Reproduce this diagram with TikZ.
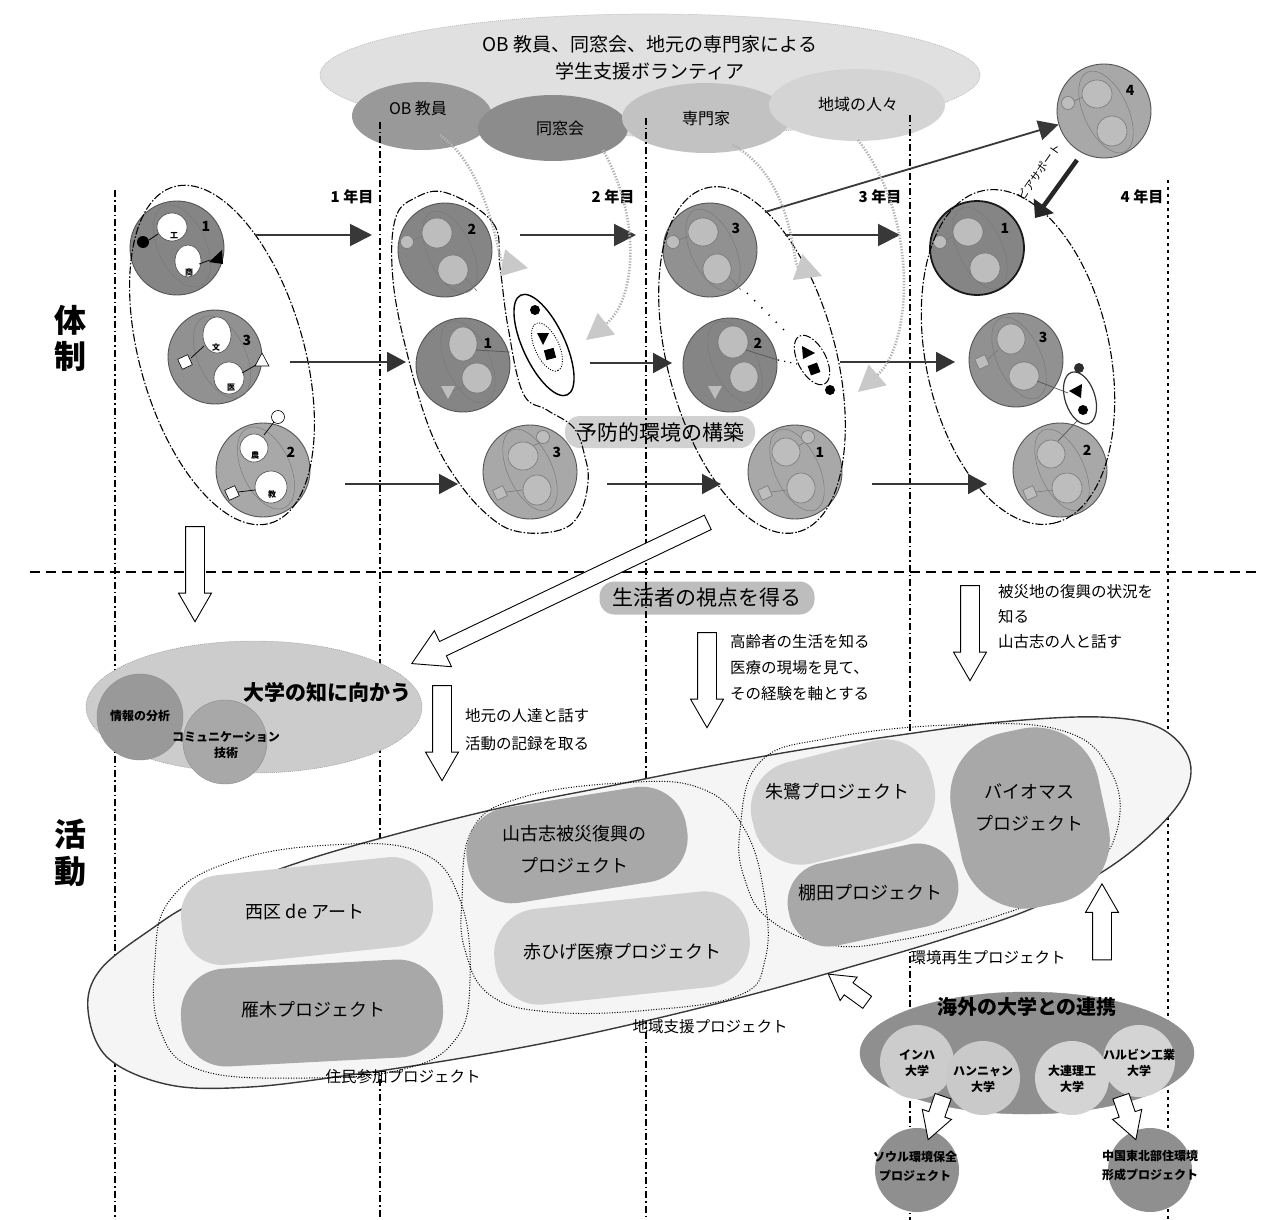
\documentclass[tikz,border=0pt]{standalone}
\usepackage{fontspec}
\setmainfont{Noto Sans CJK JP}
\usetikzlibrary{arrows.meta,shapes.geometric,shapes.arrows,calc}
\definecolor{gA}{gray}{0.52}
\definecolor{gB}{gray}{0.57}
\definecolor{gC}{gray}{0.66}
\definecolor{gBlob}{gray}{0.74}
\definecolor{gEdge}{gray}{0.33}
\definecolor{gFaint}{gray}{0.47}
\definecolor{gLine}{gray}{0.22}
\definecolor{vBig}{gray}{0.88}
\definecolor{vOB}{gray}{0.60}
\definecolor{vDS}{gray}{0.55}
\definecolor{vSM}{gray}{0.76}
\definecolor{vCH}{gray}{0.83}
\definecolor{pLight}{gray}{0.82}
\definecolor{pDark}{gray}{0.66}
\definecolor{kOut}{gray}{0.56}
\definecolor{kUni}{gray}{0.80}
\definecolor{dOut}{gray}{0.80}
\newcommand\fsz[2]{\fontsize{#1pt}{#2pt}\selectfont}
\begin{document}
\begin{tikzpicture}[x=1pt,y=-1pt,
  gcirc/.style={circle, draw=gEdge, line width=0.9pt, minimum size=94pt, inner sep=0pt},
  knob/.style={circle, draw=gFaint, fill=gBlob, line width=0.6pt, minimum size=13pt, inner sep=0pt},
  wknob/.style={circle, draw=black, fill=white, line width=0.6pt, minimum size=13pt, inner sep=0pt},
  wblob/.style={draw=gray!60!black, line width=0.6pt, fill=white},
  gblob/.style={draw=gFaint, line width=0.6pt, fill=gBlob},
  faint/.style={draw=gFaint, line width=0.45pt},
  sq/.style={draw=gFaint, fill=gBlob, line width=0.6pt, minimum size=11pt, inner sep=0pt, rotate=25},
  num/.style={font=\fsz{14}{14}\bfseries, inner sep=0pt},
  tiny/.style={font=\fsz{8}{8}\bfseries, inner sep=0pt},
  grpline/.style={draw=black, line width=1.1pt, dash pattern=on 8pt off 2pt on 1.5pt off 2pt},
  colline/.style={draw=black, line width=1.3pt, dash pattern=on 7pt off 3pt on 1.5pt off 3pt},
  arrA/.style={draw=gLine, line width=2pt, -{Triangle[length=22pt,width=22pt]}},
  arrB/.style={draw=gLine, line width=1.8pt, -{Triangle[length=19pt,width=20pt,color=gray!40!black,fill=gray!40!black]}},
  vdot/.style={draw=gray!60, line width=2.6pt, dash pattern=on 1.3pt off 1.6pt, -{Triangle[length=26pt,width=27pt,color=gray!42,fill=gray!42]}},
  hol/.style={single arrow, draw=black, fill=white, line width=0.9pt, inner xsep=0pt, inner ysep=9pt, single arrow head extend=7pt, single arrow tip angle=60},
  pill/.style={rounded corners=15pt, inner sep=4pt},
  pblob/.style={rectangle, inner sep=0pt},
  proj/.style={font=\fsz{18}{32}, align=center, inner sep=0pt},
  note/.style={font=\fsz{15.5}{26}, align=left, inner sep=0pt, anchor=west},
  glabel/.style={font=\fsz{15.5}{18}, inner sep=0pt},
  year/.style={font=\fsz{15}{15}\bfseries, inner sep=0pt},
  uni/.style={font=\fsz{12}{16}\bfseries, align=center, inner sep=0pt},
]
\useasboundingbox (0,0) rectangle (1266,1220);
\fill[white] (0,0) rectangle (1266,1220);

% ---------- volunteers ----------
\node[ellipse, draw=gray!55, dash pattern=on 1pt off 1pt, line width=0.7pt, fill=vBig, minimum width=660pt, minimum height=122pt, inner sep=0pt] (vol) at (650,75) {};
\node[font=\fsz{19}{27}, align=center] (voltxt) at (650,58) {OB 教員、同窓会、地元の専門家による\\学生支援ボランティア};
\node[ellipse, fill=vOB, minimum width=140pt, minimum height=68pt, inner sep=0pt] (ob) at (422,116) {};
\node[ellipse, fill=vDS, minimum width=150pt, minimum height=66pt, inner sep=0pt] (ds) at (553,128) {};
\node[ellipse, fill=vSM, minimum width=168pt, minimum height=70pt, inner sep=0pt] (sm) at (706,118) {};
\node[ellipse, fill=vCH, minimum width=176pt, minimum height=72pt, inner sep=0pt] (ch) at (857,105) {};
\node[glabel, font=\fsz{16}{16}] (obt) at (418,108) {OB 教員};
\node[glabel, font=\fsz{16}{16}] (dst) at (560,128) {同窓会};
\node[glabel, font=\fsz{16}{16}] (smt) at (706,118) {専門家};
\node[glabel, font=\fsz{16}{16}] (cht) at (858,104) {地域の人々};

% ---------- pills ----------
\node[pill, fill=pLight, minimum width=190pt, minimum height=32pt, font=\fsz{21}{21}] (yobo) at (660,432) {予防的環境の構築};
\node[pill, fill=gray!52, minimum width=215pt, minimum height=33pt, font=\fsz{21}{21}] (seikatsu) at (707,598) {生活者の視点を得る};

% ---------- grid lines ----------
\draw[colline] (115,190) -- (115,1220);
\draw[colline] (380,122) -- (380,1220);
\draw[colline] (646,118) -- (646,1220);
\draw[colline] (910,115) -- (910,1220);
\draw[colline, dash pattern=on 3pt off 4pt] (1168,180) -- (1168,1220);
\draw[line width=1.2pt, dash pattern=on 10pt off 6pt] (30,572) -- (1262,572);

\node[year] (y1) at (352,197) {1 年目};
\node[year] (y2) at (613,197) {2 年目};
\node[year] (y3) at (880,197) {3 年目};
\node[year] (y4) at (1142,197) {4 年目};

\node[font=\fsz{32}{32}\bfseries, inner sep=0pt] (tai) at (70,320) {体};
\node[font=\fsz{32}{32}\bfseries, inner sep=0pt] (sei) at (70,356) {制};
\node[font=\fsz{32}{32}\bfseries, inner sep=0pt] (katsu) at (70,834) {活};
\node[font=\fsz{32}{32}\bfseries, inner sep=0pt] (dou) at (70,872) {動};

% ---------- column 1 ----------
\node[gcirc, fill=gA] (k1a) at (177,248) {};
\draw[faint, rotate around={-65:(182,246)}] (182,246) ellipse [x radius=44pt, y radius=24pt];
\draw[wblob] (172,227) ellipse [x radius=15pt, y radius=14pt];
\draw[wblob] (188,261) ellipse [x radius=13pt, y radius=16pt];
\node[tiny] (k1at1) at (174,236) {工};
\node[tiny] (k1at2) at (189,272) {商};
\fill (143,242) circle [radius=6pt];
\draw[line width=0.7pt] (149,240) -- (158,234);
\fill (209,262) -- (222,250) -- (223,264) -- cycle;
\draw[line width=0.7pt] (199,264) -- (210,260);
\node[num] (k1an) at (206,226) {1};

\node[gcirc, fill=gB] (k1b) at (215,357) {};
\draw[faint, rotate around={-65:(222,357)}] (222,357) ellipse [x radius=44pt, y radius=24pt];
\draw[wblob] (217,335) ellipse [x radius=14pt, y radius=18pt];
\draw[wblob] (229,378) ellipse [x radius=15pt, y radius=16pt];
\node[tiny] (k1bt1) at (216,347) {文};
\node[tiny] (k1bt2) at (231,388) {医};
\node[sq, draw=black, fill=white] (k1bs) at (185,362) {};
\draw[line width=0.7pt] (191,358) -- (204,346);
\draw[fill=white, line width=0.6pt] (255,366) -- (269,366) -- (262,353) -- cycle;
\draw[line width=0.7pt] (242,373) -- (256,365);
\node[num] (k1bn) at (247,340) {3};

\node[gcirc, fill=gC] (k1c) at (263,470) {};
\draw[faint, rotate around={-65:(266,468)}] (266,468) ellipse [x radius=44pt, y radius=24pt];
\node[wknob] (k1ck) at (278,417) {};
\draw[line width=0.7pt] (274,422) -- (264,435);
\draw[wblob] (254,448) ellipse [x radius=14pt, y radius=14pt];
\draw[wblob] (271,487) ellipse [x radius=16pt, y radius=16pt];
\node[tiny] (k1ct1) at (255,455) {農};
\node[tiny] (k1ct2) at (272,494) {教};
\node[sq, draw=black, fill=white] (k1cs) at (232,493) {};
\draw[line width=0.7pt] (238,492) -- (255,490);
\node[num] (k1cn) at (291,452) {2};

\draw[grpline, rotate around={-74:(222,355)}] (222,355) ellipse [x radius=175pt, y radius=82pt];

% ---------- column 2 ----------
\node[gcirc, fill=gA] (k2a) at (445,250) {};
\draw[faint, rotate around={-65:(450,252)}] (450,252) ellipse [x radius=44pt, y radius=22pt];
\node[knob] (k2ak) at (407,242) {};
\draw[gFaint, line width=0.6pt] (413,240) -- (423,236);
\draw[gblob] (437,233) ellipse [x radius=15pt, y radius=15pt];
\draw[gblob] (453,270) ellipse [x radius=15pt, y radius=15pt];
\draw[gFaint, line width=0.6pt] (465,278) -- (477,291);
\node[num] (k2an) at (472,229) {2};

\node[gcirc, fill=gA] (k2b) at (463,365) {};
\draw[faint, rotate around={-65:(468,362)}] (468,362) ellipse [x radius=44pt, y radius=22pt];
\draw[gblob] (463,344) ellipse [x radius=14pt, y radius=17pt];
\draw[gblob] (477,378) ellipse [x radius=15pt, y radius=15pt];
\draw[gEdge, line width=0.7pt] (476,350) -- (510,352);
\fill[gBlob] (441,386) -- (455,386) -- (448,399) -- cycle;
\draw[gFaint, line width=0.6pt] (465,386) -- (453,391);
\node[num] (k2bn) at (488,343) {1};

\node[gcirc, fill=gC] (k2c) at (530,472) {};
\draw[faint, rotate around={-65:(530,470)}] (530,470) ellipse [x radius=44pt, y radius=22pt];
\node[knob] (k2ck) at (543,437) {};
\draw[gFaint, line width=0.6pt] (539,443) -- (533,446);
\draw[gblob] (523,456) ellipse [x radius=15pt, y radius=14pt];
\draw[gblob] (537,490) ellipse [x radius=14pt, y radius=15pt];
\node[sq] (k2cs) at (500,493) {};
\draw[gFaint, line width=0.6pt] (506,492) -- (523,490);
\node[num] (k2cn) at (557,452) {3};

\draw[black, line width=1.4pt, rotate around={-65:(544,345)}] (544,345) ellipse [x radius=55pt, y radius=21pt];
\draw[black, line width=0.9pt, dash pattern=on 1pt off 1.5pt, rotate around={-65:(547,347)}] (547,347) ellipse [x radius=26pt, y radius=12pt];
\fill (535,310) circle [radius=5pt];
\fill (537,333) -- (549,333) -- (543,345) -- cycle;
\fill[rotate around={15:(550,354)}] (545,349) rectangle (555,359);

\draw[grpline] plot[smooth cycle, tension=0.65] coordinates {(447,193) (493,223) (500,267) (508,327) (523,393) (547,410) (574,428) (585,457) (588,482) (580,513) (560,530) (520,532) (490,517) (457,480) (430,430) (407,353) (393,280) (395,220) (415,198)};

% ---------- column 3 ----------
\node[gcirc, fill=gB] (k3a) at (710,250) {};
\draw[faint, rotate around={-65:(713,250)}] (713,250) ellipse [x radius=44pt, y radius=22pt];
\node[knob] (k3ak) at (673,242) {};
\draw[gFaint, line width=0.6pt] (679,240) -- (689,236);
\draw[gblob] (703,232) ellipse [x radius=15pt, y radius=14pt];
\draw[gblob] (717,269) ellipse [x radius=14pt, y radius=15pt];
\draw[gFaint, line width=0.6pt] (729,277) -- (741,290);
\node[num] (k3an) at (736,228) {3};

\node[gcirc, fill=gA] (k3b) at (730,365) {};
\draw[faint, rotate around={-65:(735,362)}] (735,362) ellipse [x radius=44pt, y radius=22pt];
\draw[gblob] (733,342) ellipse [x radius=15pt, y radius=16pt];
\draw[gblob] (744,377) ellipse [x radius=14pt, y radius=15pt];
\draw[gEdge, line width=0.7pt] (746,350) -- (778,360);
\draw[black, line width=1.2pt, dash pattern=on 1.2pt off 5pt] (778,360) -- (797,364);
\fill[gBlob] (708,386) -- (722,386) -- (715,399) -- cycle;
\node[num] (k3bn) at (758,343) {2};

\node[gcirc, fill=gC] (k3c) at (795,472) {};
\draw[faint, rotate around={-65:(797,470)}] (797,470) ellipse [x radius=44pt, y radius=22pt];
\node[knob] (k3ck) at (808,437) {};
\draw[gFaint, line width=0.6pt] (804,443) -- (796,447);
\draw[gblob] (786,452) ellipse [x radius=14pt, y radius=14pt];
\draw[gblob] (801,488) ellipse [x radius=14pt, y radius=15pt];
\node[sq] (k3cs) at (765,493) {};
\draw[gFaint, line width=0.6pt] (771,492) -- (787,490);
\node[num] (k3cn) at (820,452) {1};

\draw[black, line width=1.5pt, dash pattern=on 1.2pt off 9pt] (747,293) -- (784,330);
\draw[grpline, line width=1pt, rotate around={-62:(812,360)}] (812,360) ellipse [x radius=27pt, y radius=14pt];
\fill (802,346) -- (815,353) -- (803,359) -- cycle;
\fill[rotate around={20:(814,369)}] (809,364) rectangle (819,374);
\fill (830,390) circle [radius=5pt];

\draw[grpline, rotate around={-75:(752,360)}] (752,360) ellipse [x radius=178pt, y radius=84pt];

% ---------- column 4 ----------
\node[gcirc, fill=gC] (k4d) at (1104,111) {};
\draw[faint, rotate around={-65:(1106,112)}] (1106,112) ellipse [x radius=44pt, y radius=22pt];
\node[knob] (k4dk) at (1068,103) {};
\draw[gFaint, line width=0.6pt] (1074,101) -- (1083,97);
\draw[gblob] (1097,94) ellipse [x radius=15pt, y radius=14pt];
\draw[gblob] (1112,131) ellipse [x radius=15pt, y radius=15pt];
\node[num] (k4dn) at (1130,90) {4};

\node[gcirc, fill=gA, draw=gray!20!black, line width=1.8pt] (k4a) at (977,248) {};
\draw[faint, rotate around={-65:(980,248)}] (980,248) ellipse [x radius=44pt, y radius=22pt];
\node[knob] (k4ak) at (940,242) {};
\draw[gFaint, line width=0.6pt] (946,240) -- (954,236);
\draw[gblob] (968,232) ellipse [x radius=15pt, y radius=14pt];
\draw[gblob] (985,268) ellipse [x radius=15pt, y radius=15pt];
\node[num] (k4an) at (1005,228) {1};

\node[gcirc, fill=gB] (k4b) at (1016,360) {};
\draw[faint, rotate around={-65:(1019,358)}] (1019,358) ellipse [x radius=44pt, y radius=22pt];
\node[sq] (k4bs) at (982,362) {};
\draw[gFaint, line width=0.6pt] (988,359) -- (998,350);
\draw[gblob] (1011,339) ellipse [x radius=14pt, y radius=15pt];
\draw[gblob] (1024,376) ellipse [x radius=15pt, y radius=14pt];
\draw[gEdge, line width=0.7pt] (1037,381) -- (1068,393);
\node[num] (k4bn) at (1043,337) {3};

\node[gcirc, fill=gC] (k4c) at (1060,470) {};
\draw[faint, rotate around={-65:(1062,470)}] (1062,470) ellipse [x radius=44pt, y radius=22pt];
\draw[gblob] (1051,454) ellipse [x radius=14pt, y radius=14pt];
\draw[gblob] (1067,488) ellipse [x radius=15pt, y radius=15pt];
\draw[gEdge, line width=0.7pt] (1058,441) -- (1077,421);
\node[sq] (k4cs) at (1030,493) {};
\draw[gFaint, line width=0.6pt] (1036,492) -- (1053,490);
\node[num] (k4cn) at (1087,450) {2};

\draw[draw=gray!40!black, line width=1.2pt, rotate around={-72:(1080,398)}] (1080,398) ellipse [x radius=27pt, y radius=15pt];
\fill[gray!35!black] (1079,368) circle [radius=5pt];
\fill (1069,391) -- (1082,384) -- (1081,398) -- cycle;
\fill (1083,410) circle [radius=5pt];

\draw[grpline, rotate around={-78:(1018,357)}] (1018,357) ellipse [x radius=170pt, y radius=92pt];

% ---------- horizontal arrows ----------
\coordinate (r1a) at (255,235); \coordinate (r1b) at (372,235);
\coordinate (r1c) at (520,235); \coordinate (r1d) at (636,235);
\coordinate (r1e) at (785,235); \coordinate (r1f) at (900,235);
\coordinate (r2a) at (290,362); \coordinate (r2b) at (406,362);
\coordinate (r2c) at (590,363); \coordinate (r2d) at (672,363);
\coordinate (r2e) at (840,362); \coordinate (r2f) at (955,362);
\coordinate (r3a) at (345,484); \coordinate (r3b) at (458,484);
\coordinate (r3c) at (607,484); \coordinate (r3d) at (721,484);
\coordinate (r3e) at (872,484); \coordinate (r3f) at (987,484);
\draw[arrA] (r1a) -- (r1b);
\draw[arrA] (r1c) -- (r1d);
\draw[arrA] (r1e) -- (r1f);
\draw[arrB] (r2a) -- (r2b);
\draw[arrB] (r2c) -- (r2d);
\draw[arrB] (r2e) -- (r2f);
\draw[arrB] (r3a) -- (r3b);
\draw[arrB] (r3c) -- (r3d);
\draw[arrB] (r3e) -- (r3f);

\coordinate (p34) at (765,212);
\draw[draw=gLine, line width=1.8pt, -{Triangle[length=20pt,width=20pt]}] (p34) -- (k4d);
\coordinate (ps) at (1077,160); \coordinate (pe) at (1035,218);
\draw[draw=gray!30!black, line width=4.5pt, -{Triangle[length=15pt,width=24pt]}] (ps) -- (pe);
\node[font=\fsz{11}{11}, rotate=55, inner sep=0pt] (peer) at (1039,172) {ピアサポート};

% ---------- dotted volunteer arrows ----------
\coordinate (vs1) at (440,135); \coordinate (ve1) at (528,268);
\coordinate (vs2) at (603,150); \coordinate (ve2) at (586,340);
\coordinate (vs3) at (733,145); \coordinate (ve3) at (822,276);
\coordinate (vs4) at (858,140); \coordinate (ve4) at (858,392);
\draw[vdot] (vs1) .. controls (490,170) and (498,262) .. (ve1);
\draw[vdot] (vs2) .. controls (642,220) and (636,300) .. (ve2);
\draw[vdot] (vs3) .. controls (795,180) and (792,265) .. (ve3);
\draw[vdot] (vs4) .. controls (920,220) and (912,345) .. (ve4);

% ---------- bottom section ----------
\node[hol, rotate=-90, minimum height=95pt] (ba1) at (195,566) {};
\node[hol, rotate=205.5, minimum height=328pt, inner ysep=7.5pt, single arrow head extend=12pt] (ba0) at (566,590) {};
\node[hol, rotate=-90, minimum height=95pt] (ba2) at (442,725) {};
\node[hol, rotate=-90, minimum height=95pt] (ba3) at (707,672) {};
\node[hol, rotate=-90, minimum height=95pt] (ba4) at (970,625) {};

\node[note, font=\fsz{15.5}{26}] (n1) at (730,668) {高齢者の生活を知る\\医療の現場を見て、\\その経験を軸とする};
\node[note, font=\fsz{15.5}{28}] (n2) at (465,730) {地元の人達と話す\\活動の記録を取る};
\node[note, font=\fsz{15.5}{25}] (n3) at (998,617) {被災地の復興の状況を\\知る\\山古志の人と話す};

% university knowledge
\node[ellipse, fill=dOut, draw=gray!90, dash pattern=on 1pt off 1pt, minimum width=336pt, minimum height=132pt, inner sep=0pt] (daigaku) at (254,707) {};
\node[circle, fill=gray!80, draw=gray!90, minimum size=86pt, inner sep=0pt] (joho) at (140,717) {};
\node[circle, fill=gray!68, draw=gray!90, minimum size=84pt, inner sep=0pt] (comm) at (225,742) {};
\node[font=\fsz{12}{12}\bfseries, inner sep=0pt] (johot) at (140,716) {情報の分析};
\node[font=\fsz{12}{16}\bfseries, align=center, inner sep=0pt] (commt) at (226,745) {コミュニケーション\\技術};
\node[font=\fsz{21}{21}\bfseries, inner sep=0pt] (daigakut) at (327,692) {大学の知に向かう};

% activity cigar
\draw[draw=gray!45!black, line width=1.4pt, fill=gray!8] plot[smooth cycle, tension=0.6] coordinates {(88,1010) (100,970) (150,930) (200,900) (300,862) (400,833) (500,808) (600,788) (700,768) (800,750) (900,735) (1000,722) (1100,717) (1160,728) (1190,762) (1178,805) (1120,860) (1040,905) (950,937) (850,967) (750,995) (650,1020) (550,1042) (450,1060) (350,1075) (250,1087) (170,1085) (108,1058)};
\draw[black, line width=1pt, dash pattern=on 1pt off 1.6pt] plot[smooth cycle, tension=0.7] coordinates {(155,960) (170,900) (230,862) (330,845) (420,852) (460,900) (470,980) (455,1040) (400,1070) (300,1078) (200,1070) (160,1030)};
\draw[black, line width=1pt, dash pattern=on 1pt off 1.6pt] plot[smooth cycle, tension=0.7] coordinates {(462,900) (472,830) (520,798) (620,783) (700,788) (745,830) (765,900) (765,960) (740,995) (650,1010) (550,1012) (490,995) (465,950)};
\draw[black, line width=1pt, dash pattern=on 1pt off 1.6pt] plot[smooth cycle, tension=0.7] coordinates {(740,830) (760,762) (830,738) (950,725) (1060,730) (1110,770) (1117,830) (1080,880) (1000,915) (900,940) (830,945) (770,920) (745,880)};
\node[pblob, fill=pLight, rounded corners=40pt, minimum width=252pt, minimum height=90pt, rotate=6] (b1) at (307,911) {};
\node[pblob, fill=pDark, rounded corners=45pt, minimum width=262pt, minimum height=98pt, rotate=3] (b2) at (312,1013) {};
\node[pblob, fill=pDark, rounded corners=45pt, minimum width=222pt, minimum height=96pt, rotate=9] (b3) at (577,845) {};
\node[pblob, fill=pLight, rounded corners=45pt, minimum width=256pt, minimum height=96pt, rotate=6] (b4) at (622,948) {};
\node[pblob, fill=pLight, rounded corners=48pt, minimum width=185pt, minimum height=104pt, rotate=14] (b5) at (843,802) {};
\node[pblob, fill=pDark, rounded corners=40pt, minimum width=172pt, minimum height=84pt, rotate=12] (b6) at (873,895) {};
\node[pblob, fill=pDark, rounded corners=65pt, minimum width=150pt, minimum height=178pt, rotate=12] (b7) at (1030,818) {};
\node[proj] (pj1) at (305,912) {西区 de アート};
\node[proj] (pj2) at (313,1010) {雁木プロジェクト};
\node[proj] (pj3) at (574,849) {山古志被災復興の\\プロジェクト};
\node[proj] (pj4) at (622,952) {赤ひげ医療プロジェクト};
\node[proj] (pj5) at (837,792) {朱鷺プロジェクト};
\node[proj] (pj6) at (870,893) {棚田プロジェクト};
\node[proj] (pj7) at (1029,808) {バイオマス\\プロジェクト};
\node[glabel] (g1) at (403,1077) {住民参加プロジェクト};
\node[glabel] (g2) at (710,1027) {地域支援プロジェクト};
\node[glabel] (g3) at (988,958) {環境再生プロジェクト};

% overseas
\node[hol, rotate=90, minimum height=76pt] (ba5) at (1102,930) {};
\node[hol, rotate=144, minimum height=48pt, inner ysep=7pt] (ba6) at (853,992) {};
\node[ellipse, fill=kOut, draw=gray!90, minimum width=334pt, minimum height=122pt, inner sep=0pt] (kaigai) at (1027,1053) {};
\node[circle, fill=kUni, minimum size=74pt, inner sep=0pt] (inha) at (917,1062) {};
\node[circle, fill=gray!42, minimum size=74pt, inner sep=0pt] (hany) at (983,1078) {};
\node[circle, fill=gray!34, minimum size=74pt, inner sep=0pt] (dali) at (1072,1078) {};
\node[circle, fill=gray!34, minimum size=72pt, inner sep=0pt] (harb) at (1139,1061) {};
\node[font=\fsz{20}{20}\bfseries, inner sep=0pt] (kaigait) at (1027,1007) {海外の大学との連携};
\node[uni] (inhat) at (917,1063) {インハ\\大学};
\node[uni] (hanyt) at (983,1079) {ハンニャン\\大学};
\node[uni] (dalit) at (1072,1079) {大連理工\\大学};
\node[uni] (harbt) at (1139,1063) {ハルビン工業\\大学};
\node[circle, fill=kOut, minimum size=84pt, inner sep=0pt] (seoul) at (917,1170) {};
\node[circle, fill=kOut, minimum size=84pt, inner sep=0pt] (china) at (1150,1170) {};
\node[uni, font=\fsz{12}{19}\bfseries] (seoult) at (915,1166) {ソウル環境保全\\プロジェクト};
\node[uni, font=\fsz{12}{19}\bfseries] (chinat) at (1150,1166) {中国東北部住環境\\形成プロジェクト};
\node[hol, rotate=-109, minimum height=46pt, inner ysep=8pt] (ba7) at (938,1111) {};
\node[hol, rotate=-71, minimum height=46pt, inner ysep=8pt] (ba8) at (1126,1111) {};
\end{tikzpicture}
\end{document}
